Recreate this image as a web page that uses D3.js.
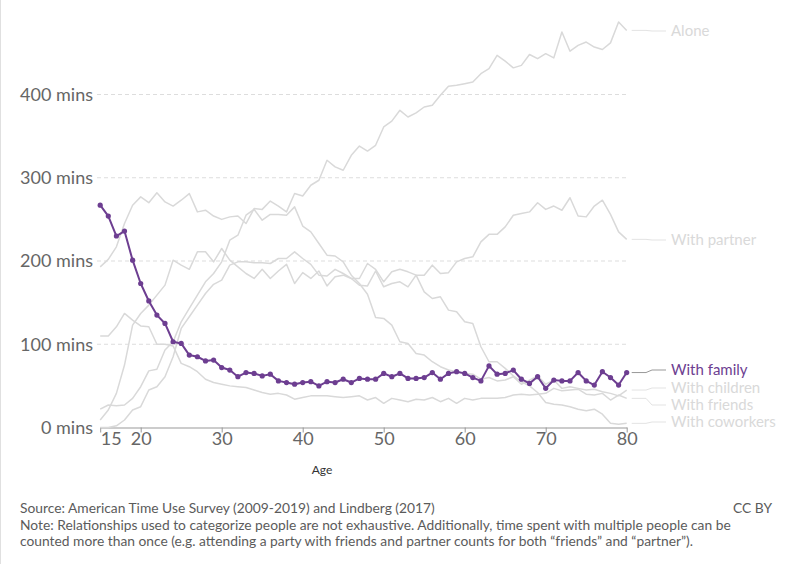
<!DOCTYPE html>
<html><head><meta charset="utf-8">
<script src="https://cdn.jsdelivr.net/npm/d3@7"></script>
<style>
html,body{margin:0;padding:0;background:#fff;}
svg{display:block;font-family:Lato,"Open Sans",sans-serif;}
</style></head>
<body><svg id="chart" width="786" height="564"></svg>
<script>
const ages = d3.range(15, 81);
const alone = [193,202,217,245,267,277,270,282,271,266,273,281,259,261,254,250,
  253,254,245,263,262,272,266,259,281,278,291,297,321,313,309,327,338,
  332,339,361,368,381,373,378,385,387,399,410,411,413,415,425,431,
  447,440,432,435,448,443,449,444,475,452,459,463,457,454,462,487,477];
const partner = [0,0,2,9,21,25,45,49,61,85,119,133,147,161,172,177,195,
  199,199,198,198,197,203,203,211,203,196,183,182,190,185,179,171,170,
  188,169,173,175,169,183,183,195,185,186,199,203,205,223,232,232,241,
  255,257,259,270,262,266,261,276,254,253,266,273,256,235,226];
const family = [267,254,230,236,201,173,152,135,125,103,101,87,85,80,81,72,
  69,61,66,65,62,64,56,54,52,54,55,50,55,54,58,54,59,
  58,58,65,61,65,59,59,60,66,58,65,67,65,60,56,74,64,
  65,69,58,53,61,47,57,56,56,66,56,51,67,60,51,66];
const children = [22,27,26,27,35,49,68,70,93,103,127,143,159,175,185,199,225,
  231,255,262,249,256,256,255,265,242,235,221,207,206,199,183,173,160,
  132,131,123,103,101,89,87,79,73,69,67,65,64,58,60,56,57,
  61,52,57,62,52,57,47,49,47,45,46,43,41,38,45];
const friends = [110,110,121,137,129,122,121,100,100,98,77,73,67,58,54,52,
  50,49,48,45,42,40,41,39,34,36,38,38,38,37,36,37,38,33,
  36,29,35,33,31,34,33,36,31,35,29,35,33,35,35,35,
  36,39,40,39,40,41,47,44,45,46,40,39,41,33,39,35];
const coworkers = [9,21,41,75,123,137,147,159,171,201,195,190,211,211,199,215,201,
  193,185,179,190,179,188,196,173,186,179,188,170,181,183,179,179,197,
  190,175,187,190,187,183,163,155,157,141,139,127,125,97,79,79,71,
  62,55,50,42,30,28,27,25,22,20,22,16,5,4,5];

const seriesNames = ["Alone","With partner","With family","With children","With friends","With coworkers"];
const seriesValues = [alone, partner, family, children, friends, coworkers];
const labelY = [31, 240, 370, 388, 405, 422];
const yTicks = [0,100,200,300,400];
const xTicks = [15,20,30,40,50,60,70,80];
const highlight = "With family";

const PURPLE = "#6d3e91";
const GRAY = "#d9d9d9";

const svg = d3.select("#chart");
const x = d3.scaleLinear().domain([15,80]).range([100.2,626.7]);
const y = d3.scaleLinear().domain([0,400]).range([427.5,94.5]);

// left border
svg.append("line").attr("x1",0.5).attr("x2",0.5).attr("y1",0).attr("y2",564)
  .attr("stroke","#e0e0e0").attr("stroke-width",1);

// gridlines
svg.append("g").selectAll("line").data(yTicks.filter(d=>d>0)).join("line")
  .attr("x1",97).attr("x2",626.7).attr("y1",d=>y(d)).attr("y2",d=>y(d))
  .attr("stroke","#dddddd").attr("stroke-dasharray","4,3").attr("stroke-width",1);

// y labels
svg.append("g").selectAll("text").data(yTicks).join("text")
  .attr("x",93).attr("y",d=>y(d)).attr("dy","0.36em").attr("text-anchor","end")
  .attr("font-size",18).attr("fill","#666").text(d=>d+" mins");

// x axis
const xAxis = d3.axisBottom(x).tickValues(xTicks).tickSize(5).tickSizeOuter(0).tickFormat(d3.format("d"));
const gx = svg.append("g").attr("transform","translate(0,427.5)").call(xAxis);
gx.select(".domain").attr("stroke","#999");
gx.selectAll(".tick line").attr("stroke","#999");
gx.selectAll(".tick text").attr("font-family","Lato").attr("font-size",18).attr("fill","#666").attr("dy","0.55em")
  .attr("text-anchor",d=>d===15?"start":"middle");

svg.append("text").attr("x",322).attr("y",474).attr("text-anchor","middle")
  .attr("font-size",12).attr("fill","#333").text("Age");

// lines
const line = d3.line().x((d,i)=>x(ages[i])).y(d=>y(d));
const order = [0,1,3,4,5,2];
order.forEach(k=>{
  const isH = seriesNames[k]===highlight;
  svg.append("path").datum(seriesValues[k]).attr("d",line)
    .attr("fill","none").attr("stroke",isH?PURPLE:GRAY)
    .attr("stroke-width",isH?2:1.5).attr("stroke-linejoin","round");
  if(isH){
    svg.append("g").selectAll("circle").data(seriesValues[k]).join("circle")
      .attr("cx",(d,i)=>x(ages[i])).attr("cy",d=>y(d)).attr("r",2.6).attr("fill",PURPLE);
  }
});

// labels + connectors
seriesNames.forEach((name,k)=>{
  const vals = seriesValues[k];
  const y0 = y(vals[vals.length-1]);
  const ly = labelY[k];
  const isH = name===highlight;
  const col = isH ? "#999" : "#e3e3e3";
  svg.append("path")
    .attr("d",`M${x(80)+5},${y0}H646L652,${ly}H666`)
    .attr("fill","none").attr("stroke",col).attr("stroke-width",1);
  svg.append("text").attr("x",671).attr("y",ly).attr("dy","0.35em")
    .attr("font-size",15).attr("fill",isH?PURPLE:GRAY).text(name);
});

// footer
const foot = svg.append("g").attr("font-size",13.8).attr("fill","#5b5b5b");
foot.append("text").attr("x",20).attr("y",513).text("Source: American Time Use Survey (2009-2019) and Lindberg (2017)");
foot.append("text").attr("x",772).attr("y",513).attr("text-anchor","end").text("CC BY");
foot.append("text").attr("x",20).attr("y",529.5).text("Note: Relationships used to categorize people are not exhaustive. Additionally, time spent with multiple people can be");
foot.append("text").attr("x",20).attr("y",546).text("counted more than once (e.g. attending a party with friends and partner counts for both \u201cfriends\u201d and \u201cpartner\u201d).");
</script></body></html>
